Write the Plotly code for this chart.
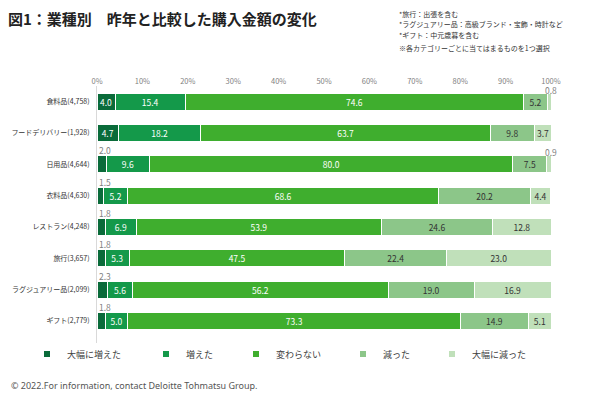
import plotly.graph_objects as go

categories = ["食料品(4,758)", "フードデリバリー(1,928)", "日用品(4,644)", "衣料品(4,630)",
              "レストラン(4,248)", "旅行(3,657)", "ラグジュアリー品(2,099)", "ギフト(2,779)"]
series_names = ["大幅に増えた", "増えた", "変わらない", "減った", "大幅に減った"]
much_increased = [4.0, 4.7, 2.0, 1.5, 1.8, 1.8, 2.3, 1.8]
increased = [15.4, 18.2, 9.6, 5.2, 6.9, 5.3, 5.6, 5.0]
unchanged = [74.6, 63.7, 80.0, 68.6, 53.9, 47.5, 56.2, 73.3]
decreased = [5.2, 9.8, 7.5, 20.2, 24.6, 22.4, 19.0, 14.9]
much_decreased = [0.8, 3.7, 0.9, 4.4, 12.8, 23.0, 16.9, 5.1]
x_ticks = [0, 10, 20, 30, 40, 50, 60, 70, 80, 90, 100]
x_tick_labels = [f"{v}%" for v in x_ticks]

series_values = [much_increased, increased, unchanged, decreased, much_decreased]
colors = ["#0a6b3a", "#14994a", "#3fae2e", "#8cc689", "#c0e0ba"]
text_colors = ["#ffffff", "#ffffff", "#ffffff", "#333333", "#333333"]
MIN_INSIDE = 3.0

FONT = "Noto Sans CJK JP"
OFF = 8  # page body margin offset
W, H = 600, 399
L, R, PT, PB = 97 - OFF, 49 + OFF, 86 - OFF, 56 + OFF
pw = W - L - R
ph = H - PT - PB


def pxp(x):
    return (x - OFF - L) / pw


def py(y):
    return 1 - (y - OFF - PT) / ph


fig = go.Figure()

for name, vals, col, tcol in zip(series_names, series_values, colors, text_colors):
    fig.add_trace(go.Bar(
        y=categories, x=vals, orientation="h", name=name,
        marker=dict(color=col, line=dict(color="#ffffff", width=1)),
        text=[f"{v:.1f}" if v >= MIN_INSIDE else "" for v in vals],
        textposition="inside", insidetextanchor="middle", textangle=0,
        textfont=dict(color=tcol, size=8.5, family=FONT),
        constraintext="none", showlegend=False, hoverinfo="skip",
    ))

# small values shown outside the bars
annotations = []
for cat, v in zip(categories, much_increased):
    if v < MIN_INSIDE:
        annotations.append(dict(x=0, y=cat, xref="x", yref="y", text=f"{v:.1f}",
                                showarrow=False, xanchor="left", yanchor="middle",
                                yshift=14, font=dict(size=8.5, color="#7f7f7f", family=FONT)))
for cat, v in zip(categories, much_decreased):
    if v < 1.0:
        annotations.append(dict(x=100, y=cat, xref="x", yref="y", text=f"{v:.1f}",
                                showarrow=False, xanchor="center", yanchor="middle",
                                yshift=12, font=dict(size=8.5, color="#7f7f7f", family=FONT)))

# legend entries (small square markers), each in its own legend for spacing
legend_px = [27, 146, 236, 343, 432]
for i, (name, col) in enumerate(zip(series_names, colors)):
    lg = "legend" if i == 0 else f"legend{i+1}"
    fig.add_trace(go.Scatter(x=[None], y=[None], mode="markers", name=name,
                             marker=dict(symbol="square", size=6, color=col),
                             legend=lg, showlegend=True, hoverinfo="skip"))

legend_common = dict(orientation="h", yanchor="middle", y=py(354), xanchor="left",
                     font=dict(size=9, color="#404040", family=FONT),
                     bgcolor="rgba(0,0,0,0)", itemwidth=30)
legends = {}
for i, px in enumerate(legend_px):
    key = "legend" if i == 0 else f"legend{i+1}"
    legends[key] = dict(legend_common, x=pxp(px))

# notes and footer
notes = ["*旅行：出張を含む", "*ラグジュアリー品：高級ブランド・宝飾・時計など", "*ギフト：中元歳暮を含む"]
for j, t in enumerate(notes):
    annotations.append(dict(x=pxp(397), y=py(14 + 10.5 * j), xref="paper", yref="paper", text=t,
                            showarrow=False, xanchor="left", yanchor="middle",
                            font=dict(size=7, color="#333333", family=FONT)))
annotations.append(dict(x=pxp(397), y=py(48), xref="paper", yref="paper",
                        text="※各カテゴリーごとに当てはまるものを1つ選択",
                        showarrow=False, xanchor="left", yanchor="middle",
                        font=dict(size=7, color="#333333", family=FONT)))
annotations.append(dict(x=pxp(9), y=py(385), xref="paper", yref="paper",
                        text="© 2022.For information, contact Deloitte Tohmatsu Group.",
                        showarrow=False, xanchor="left", yanchor="middle",
                        font=dict(size=9, color="#555555", family="Noto Sans")))

fig.update_layout(
    width=W, height=H,
    margin=dict(l=L, r=R, t=PT, b=PB, autoexpand=False),
    barmode="stack", bargap=0.45,
    plot_bgcolor="#ffffff", paper_bgcolor="#ffffff",
    title=dict(text="<b>図1：業種別　昨年と比較した購入金額の変化</b>", xref="container", yref="container",
               x=0, y=1 - (20 - OFF) / H, xanchor="left", yanchor="middle",
               font=dict(size=15, color="#222222", family=FONT)),
    xaxis=dict(side="top", range=[0, 100], tickvals=x_ticks, ticktext=x_tick_labels,
               showgrid=False, zeroline=False, showline=False, fixedrange=True, automargin=False,
               tickfont=dict(size=7.5, color="#7f7f7f", family=FONT)),
    yaxis=dict(categoryorder="array", categoryarray=categories, autorange="reversed",
               showline=True, linecolor="#d9d9d9", linewidth=1, showgrid=False,
               ticks="", ticklabelstandoff=5, automargin=False,
               tickfont=dict(size=7, color="#333333", family=FONT)),
    annotations=annotations,
    **legends,
)

fig.write_html("out.html")
